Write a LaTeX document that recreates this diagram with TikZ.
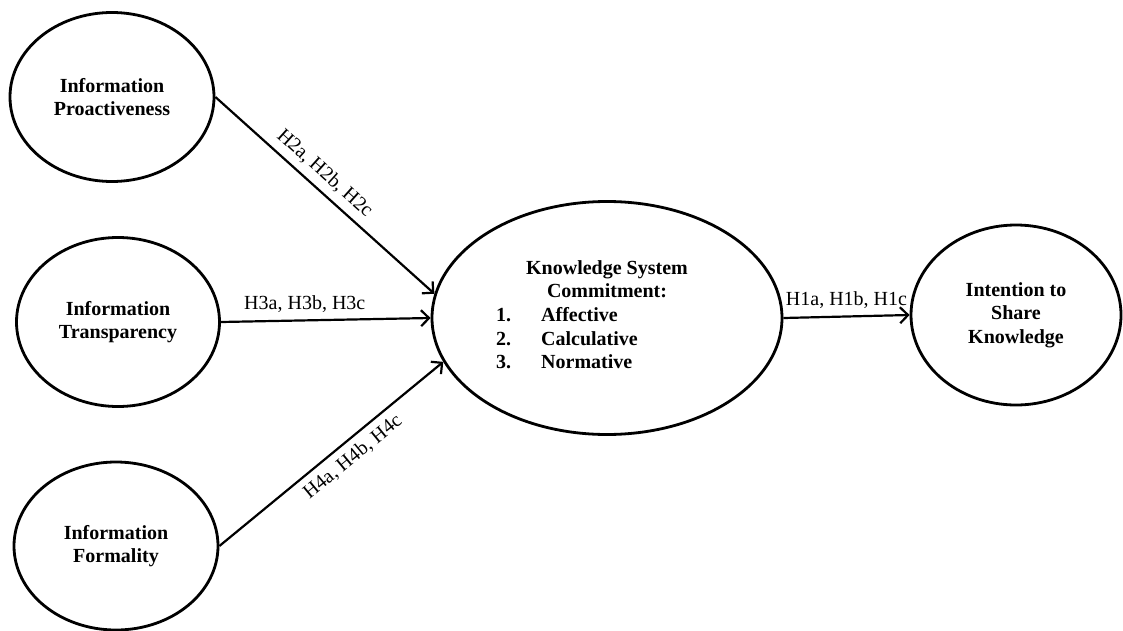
\documentclass[tikz,border=0pt]{standalone}
\usepackage{fontspec}
\setmainfont{Liberation Serif}
\usetikzlibrary{shapes.geometric,arrows.meta}
\tikzset{
  construct/.style={ellipse,draw,line width=1.4pt,inner sep=0pt,align=center,
    font=\bfseries\fontsize{10}{11.8}\selectfont},
  link/.style={-{Straight Barb[length=4pt,width=8pt]},line width=1.1pt},
  hyp/.style={font=\fontsize{10}{12}\selectfont}
}
\begin{document}
\begin{tikzpicture}[x=0.5pt,y=-0.5pt]
      \useasboundingbox (0,0) rectangle (1123,631);
      \draw
        (112,97) node[construct,minimum width=102pt,minimum height=84.5pt] (ip){Information\\Proactiveness}
        (118,322) node[construct,minimum width=101.5pt,minimum height=84.5pt] (it){Information\\Transparency}
        (116,546) node[construct,minimum width=102pt,minimum height=84pt] (if){Information\\Formality}
        (607,318) node[construct,minimum width=175pt,minimum height=116.5pt] (ksc){Knowledge System\\Commitment:\\
          \hbox{\begin{tabular}[t]{@{}l@{\hspace{15pt}}l@{}}1.&Affective\\2.&Calculative\\3.&Normative\end{tabular}\kern40pt}}
        (1016,315) node[construct,minimum width=105pt,minimum height=90pt] (its){Intention to\\Share\\Knowledge};
      \begin{scope}[link]
        \draw (ip.east) to node[hyp,sloped,above,pos=0.45]{H2a, H2b, H2c} (ksc.172);
        \draw (it.east) to node[hyp,above,pos=0.4]{H3a, H3b, H3c} (ksc.west);
        \draw (if.east) to node[hyp,sloped,below,pos=0.55]{H4a, H4b, H4c} (ksc.195);
        \draw (ksc.east) to node[hyp,above]{H1a, H1b, H1c} (its.west);
      \end{scope}
    \end{tikzpicture}
\end{document}
